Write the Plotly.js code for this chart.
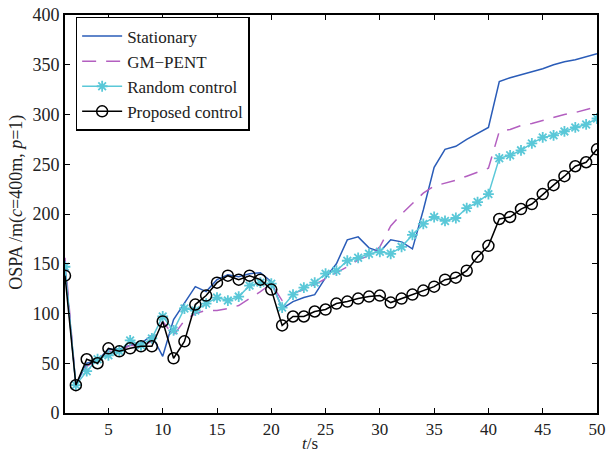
<!DOCTYPE html>
<html>
<head>
<meta charset="utf-8">
<script src="https://cdn.plot.ly/plotly-3.0.1.min.js"></script>
<style>html,body{margin:0;padding:0;background:#fff;}#chart{width:607px;height:456px;}</style>
</head>
<body>
<div id="chart"></div>
<script>
var t = [];
for (var i = 1; i <= 50; i++) t.push(i);

var stationary = [148, 28, 50, 53, 64, 64, 68, 70, 78, 57,
                  94, 110, 127, 122, 134, 139, 137, 140, 141, 132,
                  105, 112, 116, 119, 136, 150, 174, 177, 166, 162,
                  174, 172, 165, 204, 247, 265, 268, 275, 281, 287,
                  333, 337, 340, 343, 346, 350, 353, 355, 358, 361];
var gmpent = [156, 28, 47, 53, 62, 62, 68, 67, 72, 92,
              78, 93, 100, 103, 103, 105, 108, 115, 122, 130,
              113, 120, 124, 129, 135, 141, 147, 154, 158, 167,
              188, 200, 210, 221, 228, 231, 234, 238, 242, 246,
              283, 285, 289, 291, 294, 297, 300, 302, 305, 308];
var randomCtl = [147, 28, 42, 54, 58, 62, 73, 68, 75, 97,
                 83, 105, 103, 110, 116, 113, 117, 128, 131, 130,
                 106, 119, 126, 131, 140, 143, 153, 156, 160, 162,
                 160, 167, 179, 190, 197, 193, 196, 206, 212, 220,
                 256, 259, 264, 271, 277, 279, 283, 287, 290, 296];
var proposed = [138, 28, 54, 50, 65, 62, 65, 67, 67, 92,
                55, 72, 109, 118, 131, 138, 134, 138, 134, 124,
                88, 97, 97, 102, 104, 110, 112, 115, 117, 118,
                111, 115, 119, 123, 127, 134, 136, 143, 157, 168,
                195, 197, 205, 210, 220, 229, 238, 248, 252, 265];

var xTicks = [5, 10, 15, 20, 25, 30, 35, 40, 45, 50];
var yTicks = [0, 50, 100, 150, 200, 250, 300, 350, 400];
var names = ['Stationary', 'GM\u2212PENT', 'Random control', 'Proposed control'];
var xTitle = '<i>t</i>/s';
var yTitle = 'OSPA /m(<i>c</i>=400m, <i>p</i>=1)';

var font = "'Liberation Serif', 'Times New Roman', serif";

var traces = [
  {x: t, y: stationary, name: names[0], mode: 'lines', type: 'scatter',
   line: {color: '#2a5cb8', width: 1.5}},
  {x: t, y: gmpent, name: names[1], mode: 'lines', type: 'scatter',
   line: {color: '#b35fc0', width: 1.5, dash: '14px,10px'}},
  {x: t, y: randomCtl, name: names[2], mode: 'lines+markers', type: 'scatter',
   line: {color: '#5ac8d8', width: 1.5},
   marker: {symbol: 'asterisk-open', size: 9, color: '#5ac8d8', line: {color: '#5ac8d8', width: 1.8}}},
  {x: t, y: proposed, name: names[3], mode: 'lines+markers', type: 'scatter',
   line: {color: '#000000', width: 1.5},
   marker: {symbol: 'circle-open', size: 11, color: '#000000', line: {color: '#000000', width: 1.5}}}
];

var layout = {
  width: 607, height: 456,
  margin: {l: 65, r: 10, t: 15, b: 43},
  paper_bgcolor: '#ffffff', plot_bgcolor: '#ffffff',
  font: {family: font, size: 18, color: '#222'},
  showlegend: true,
  legend: {x: 0.02, y: 0.995, xanchor: 'left', yanchor: 'top',
           bgcolor: '#ffffff', bordercolor: '#000000', borderwidth: 1.5,
           font: {family: font, size: 17, color: '#222'}, tracegroupgap: 0, itemwidth: 40},
  xaxis: {range: [1, 50], tickvals: xTicks, ticktext: xTicks.map(String),
          ticks: 'inside', ticklen: 5, tickcolor: '#000', tickwidth: 1,
          showline: true, linecolor: '#000', linewidth: 2, mirror: 'ticks',
          showgrid: false, zeroline: false, automargin: false,
          tickfont: {family: font, size: 17, color: '#222'}},
  yaxis: {range: [0, 400], tickvals: yTicks, ticktext: yTicks.map(String),
          ticks: 'inside', ticklen: 5, tickcolor: '#000', tickwidth: 1,
          showline: true, linecolor: '#000', linewidth: 2, mirror: 'ticks',
          showgrid: false, zeroline: false, automargin: false,
          tickfont: {family: font, size: 18, color: '#222'}},
  annotations: [
    {text: xTitle, xref: 'paper', yref: 'paper', x: 0.4596, y: -0.106,
     xanchor: 'center', yanchor: 'bottom', showarrow: false,
     font: {family: font, size: 17, color: '#222'}},
    {text: yTitle, xref: 'paper', yref: 'paper', x: -0.0902, y: 0.528,
     xanchor: 'center', yanchor: 'middle', textangle: -90, showarrow: false,
     font: {family: font, size: 18, color: '#222'}}
  ]
};

Plotly.newPlot('chart', traces, layout, {displayModeBar: false, staticPlot: true});
</script>
</body>
</html>
